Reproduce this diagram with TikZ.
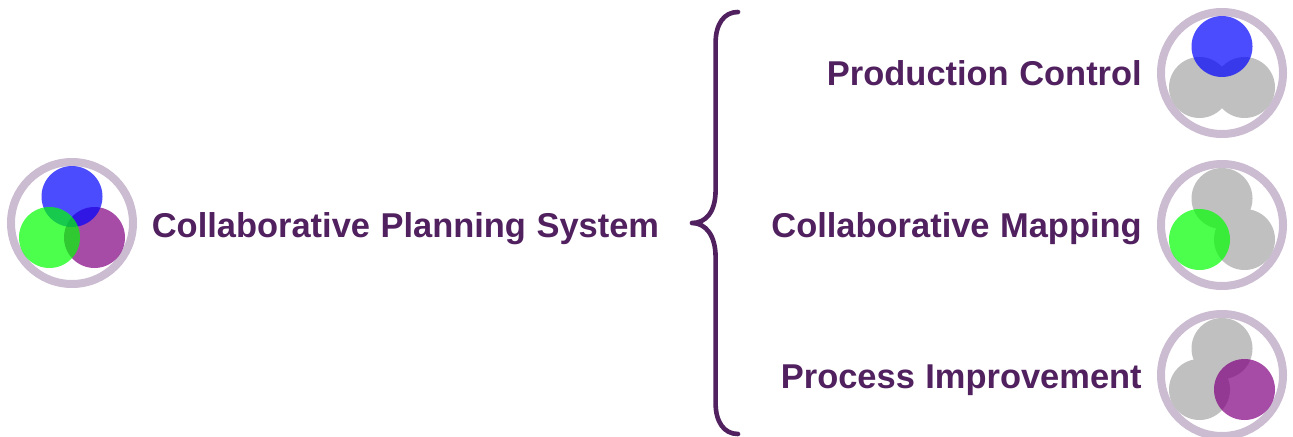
\documentclass[tikz,border=0pt]{standalone}
\usepackage{fontspec}
\setmainfont[WordSpace=1.1]{Liberation Sans}
\definecolor{darkplum}{RGB}{80,32,95}
\definecolor{ringplum}{RGB}{203,188,209}
\definecolor{dotgray}{RGB}{192,192,192}
\definecolor{dotpurple}{RGB}{128,0,128}
\tikzset{
	titolo/.style={text=darkplum, font=\fontsize{24.5}{29}\selectfont\bfseries, inner sep=0pt},
	ring/.style={draw=ringplum, line width=0.2cm},
	bluedot/.style={fill=blue, fill opacity=0.7},
	greendot/.style={fill=green, fill opacity=0.7},
	purpledot/.style={fill=dotpurple, fill opacity=0.7},
	graydot/.style={fill=dotgray}
}
\begin{document}
\begin{tikzpicture}[>=latex]
		\useasboundingbox (0,0) rectangle (32.325,10.9);
		%\draw [help lines] (0,0) grid (33,11);
		% Sistema
		\draw [ring] (1.8,5.325) circle (1.525);
		\fill [purpledot] (2.3625,4.9625) circle (0.7625);
		\fill [bluedot] (1.8,5.9875) circle (0.7625);
		\fill [greendot] (1.2375,4.9625) circle (0.7625);
		\node [titolo, anchor=base west] (sistema) at (3.79,4.96) {Collaborative Planning System};
		% Graffa
		\draw [darkplum, line width=0.115cm, line cap=round, line join=round] (18.45,10.6) .. controls (18.1,10.6) and (17.89,10.3) .. (17.89,9.825) -- (17.89,6.15) .. controls (17.89,5.6) and (17.65,5.325) .. (17.3,5.325) .. controls (17.65,5.325) and (17.89,5.0) .. (17.89,4.475) -- (17.89,0.825) .. controls (17.89,0.35) and (18.1,0.05) .. (18.45,0.05);
		% Production Control
		\draw [ring] (30.55,9.075) circle (1.525);
		\fill [graydot] (29.9875,8.7125) circle (0.7625);
		\fill [graydot] (31.1125,8.7125) circle (0.7625);
		\fill [bluedot] (30.55,9.7375) circle (0.7625);
		\node [titolo, anchor=base east] (controllo) at (28.55,8.775) {Production Control};
		% Collaborative Mapping
		\draw [ring] (30.55,5.275) circle (1.525);
		\fill [graydot] (30.55,5.9375) circle (0.7625);
		\fill [graydot] (31.1125,4.9125) circle (0.7625);
		\fill [greendot] (29.9875,4.9125) circle (0.7625);
		\node [titolo, anchor=base east] (mappa) at (28.55,4.96) {Collaborative Mapping};
		% Process Improvement
		\draw [ring] (30.55,1.525) circle (1.525);
		\fill [graydot] (30.55,2.1875) circle (0.7625);
		\fill [graydot] (29.9875,1.1625) circle (0.7625);
		\fill [purpledot] (31.1125,1.1625) circle (0.7625);
		\node [titolo, anchor=base east] (processo) at (28.55,1.19) {Process Improvement};
	\end{tikzpicture}
\end{document}
